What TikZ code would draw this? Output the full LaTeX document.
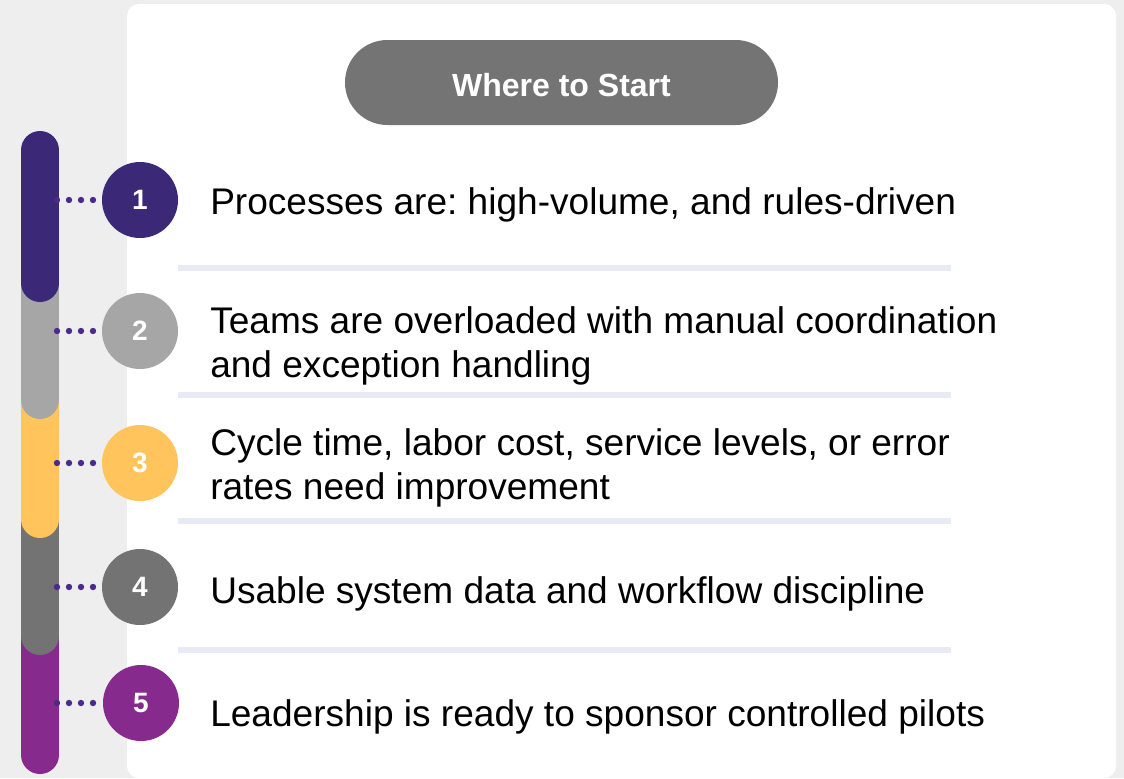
\documentclass[tikz,border=0pt]{standalone}
\usepackage{fontspec}
\setmainfont{Liberation Sans}
\frenchspacing
\definecolor{bgray}{HTML}{EEEEEE}
\definecolor{cA}{HTML}{3B2876}
\definecolor{cB}{HTML}{A6A6A6}
\definecolor{cC}{HTML}{FFC55C}
\definecolor{cD}{HTML}{737373}
\definecolor{cE}{HTML}{862A8E}
\definecolor{dotc}{HTML}{4A2A8C}
\definecolor{sepc}{HTML}{E8EBF5}
\definecolor{pillc}{HTML}{747474}
\tikzset{
  barseg/.style={line width=28.5pt, line cap=round},
  numcirc/.style={circle, minimum size=57pt, inner sep=0pt, text=white, font=\fontsize{21}{24}\selectfont\bfseries},
  dotline/.style={dotc, line width=4.8pt, line cap=round, dash pattern=on 0pt off 9pt},
  sepline/.style={sepc, line width=4.5pt},
  itemtext/.style={anchor=base west, align=left, inner sep=0pt, font=\fontsize{27.8}{33}\selectfont},
}
\begin{document}
\begin{tikzpicture}[x=0.75pt, y=-0.75pt]
\useasboundingbox (0,0) rectangle (1124,778);
\fill[bgray] (0,0) rectangle (1124,778);
\fill[white, rounded corners=9pt] (127,4) rectangle (1116,778);
% title
\node[fill=pillc, minimum width=324.75pt, minimum height=63.75pt, rounded corners=31.8pt, inner sep=0pt,
      text height=21pt, text depth=0pt,
      text=white, font=\fontsize{24}{28}\selectfont\bfseries] (title) at (561.5,82.5) {Where to Start};
% bar segments (bottom first)
\draw[barseg, cE] (40,640) -- (40,755);
\draw[barseg, cD] (40,520) -- (40,636);
\draw[barseg, cC] (40,400) -- (40,519);
\draw[barseg, cB] (40,280) -- (40,400);
\draw[barseg, cA] (40,150) -- (40,283);
% connector start points on the bar
\coordinate (b1) at (57,200);
\coordinate (b2) at (57,331);
\coordinate (b3) at (57,463);
\coordinate (b4) at (57,587);
\coordinate (b5) at (57,703);
\coordinate (c1w) at (102,200);
\coordinate (c2w) at (102,331);
\coordinate (c3w) at (102,463);
\coordinate (c4w) at (102,587);
\coordinate (c5w) at (102,703);
\draw[dotline] (b1) -- (c1w);
\draw[dotline] (b2) -- (c2w);
\draw[dotline] (b3) -- (c3w);
\draw[dotline] (b4) -- (c4w);
\draw[dotline] (b5) -- (c5w);
% circles
\node[numcirc, fill=cA] (c1) at (140,200) {1};
\node[numcirc, fill=cB] (c2) at (140,331) {2};
\node[numcirc, fill=cC] (c3) at (140,463) {3};
\node[numcirc, fill=cD] (c4) at (140,587) {4};
\node[numcirc, fill=cE] (c5) at (141,703) {5};
% separators
\coordinate (s1a) at (178,268); \coordinate (s1b) at (951,268);
\coordinate (s2a) at (178,395); \coordinate (s2b) at (951,395);
\coordinate (s3a) at (178,521); \coordinate (s3b) at (951,521);
\coordinate (s4a) at (178,650); \coordinate (s4b) at (951,650);
\draw[sepline] (s1a) -- (s1b);
\draw[sepline] (s2a) -- (s2b);
\draw[sepline] (s3a) -- (s3b);
\draw[sepline] (s4a) -- (s4b);
% texts (base anchor = baseline of the last line)
\node[itemtext] (t1) at (210,214) {Processes are: high-volume, and rules-driven};
\node[itemtext] (t2) at (210,377) {Teams are overloaded with manual coordination\\and exception handling};
\node[itemtext] (t3) at (210,499) {Cycle time, labor cost, service levels, or error\\rates need improvement};
\node[itemtext] (t4) at (210,603) {Usable system data and workflow discipline};
\node[itemtext] (t5) at (210,726) {Leadership is ready to sponsor controlled pilots};
\end{tikzpicture}
\end{document}
